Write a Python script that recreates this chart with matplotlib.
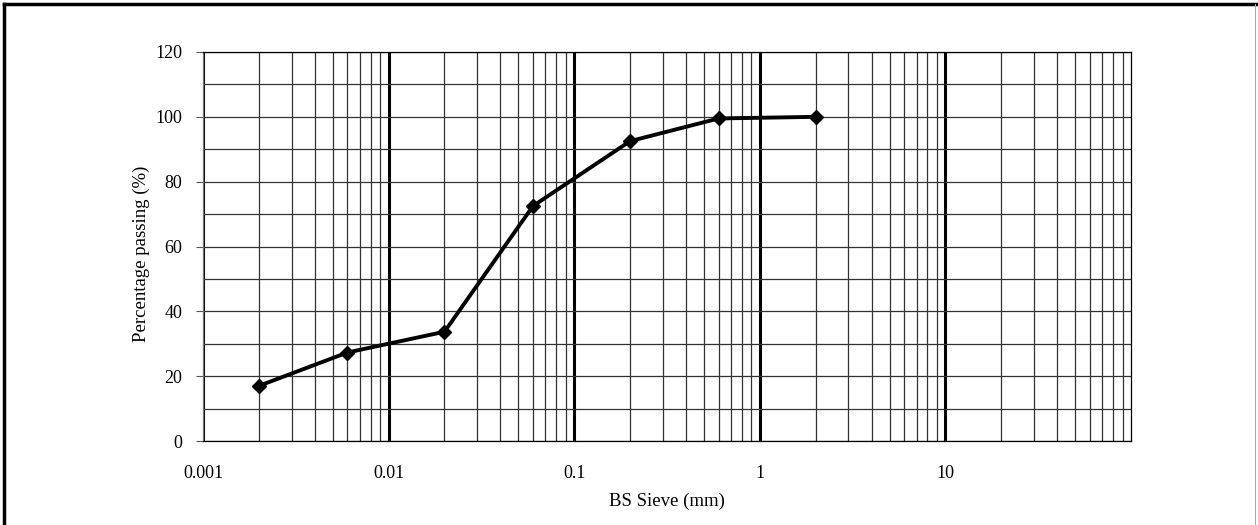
import numpy as np
import matplotlib.pyplot as plt
from matplotlib.ticker import LogLocator, FixedLocator, NullFormatter, FixedFormatter

plt.rcParams['font.family'] = ['Liberation Serif', 'DejaVu Serif']

sieve = [0.002, 0.006, 0.02, 0.06, 0.2, 0.6, 2.0]  # mm
passing = [17.0, 27.3, 33.7, 72.5, 92.5, 99.5, 100.0]  # %

xticks = [0.001, 0.01, 0.1, 1, 10]
xtick_labels = ['0.001', '0.01', '0.1', '1', '10']

fig = plt.figure(figsize=(12.58, 5.25), dpi=100)
ax = fig.add_axes([203 / 1258, 1 - 441 / 525, 928 / 1258, 389 / 525])

ax.set_xscale('log')
ax.set_xlim(0.001, 100)
ax.set_ylim(0, 120)

# grid: decades heavy, sub-decades and 10% steps light
ax.xaxis.set_major_locator(FixedLocator(xticks))
ax.xaxis.set_major_formatter(FixedFormatter(xtick_labels))
ax.xaxis.set_minor_locator(LogLocator(base=10, subs=np.arange(2, 10)))
ax.xaxis.set_minor_formatter(NullFormatter())
ax.set_yticks(np.arange(0, 121, 20))
ax.set_yticks(np.arange(10, 120, 20), minor=True)

ax.grid(which='major', axis='x', color='black', linewidth=2.2)
ax.grid(which='minor', axis='x', color='#333333', linewidth=0.9)
ax.grid(which='both', axis='y', color='#333333', linewidth=0.9)

ax.tick_params(axis='x', which='both', length=0, pad=17, labelsize=13)
ax.tick_params(axis='y', which='major', length=5, width=0.8, color='#555555', labelsize=13, pad=10)
ax.tick_params(axis='y', which='minor', length=0)

for side in ['top', 'right', 'bottom']:
    ax.spines[side].set_color('black')
    ax.spines[side].set_linewidth(0.9)
ax.spines['left'].set_color('#777777')
ax.spines['left'].set_linewidth(0.9)

ax.plot(sieve, passing, color='black', linewidth=2.8, marker='D', markersize=7,
        markerfacecolor='black', markeredgecolor='black', zorder=5)

ax.set_xlabel('BS Sieve (mm)', fontsize=13.5, labelpad=8)
ax.set_ylabel('Percentage passing (%)', fontsize=13.5, labelpad=4)
ax.yaxis.set_label_coords(-0.057, 0.48)

# outer frame
fig.add_artist(plt.Line2D([4 / 1258, 4 / 1258], [0, 1 - 4 / 525], color='black', linewidth=2.5))
fig.add_artist(plt.Line2D([4 / 1258, 1], [1 - 4 / 525, 1 - 4 / 525], color='black', linewidth=2.5))
fig.add_artist(plt.Line2D([1255 / 1258, 1255 / 1258], [0, 1 - 4 / 525], color='#aaaaaa', linewidth=0.8))

fig.savefig('out.png', dpi=100)
